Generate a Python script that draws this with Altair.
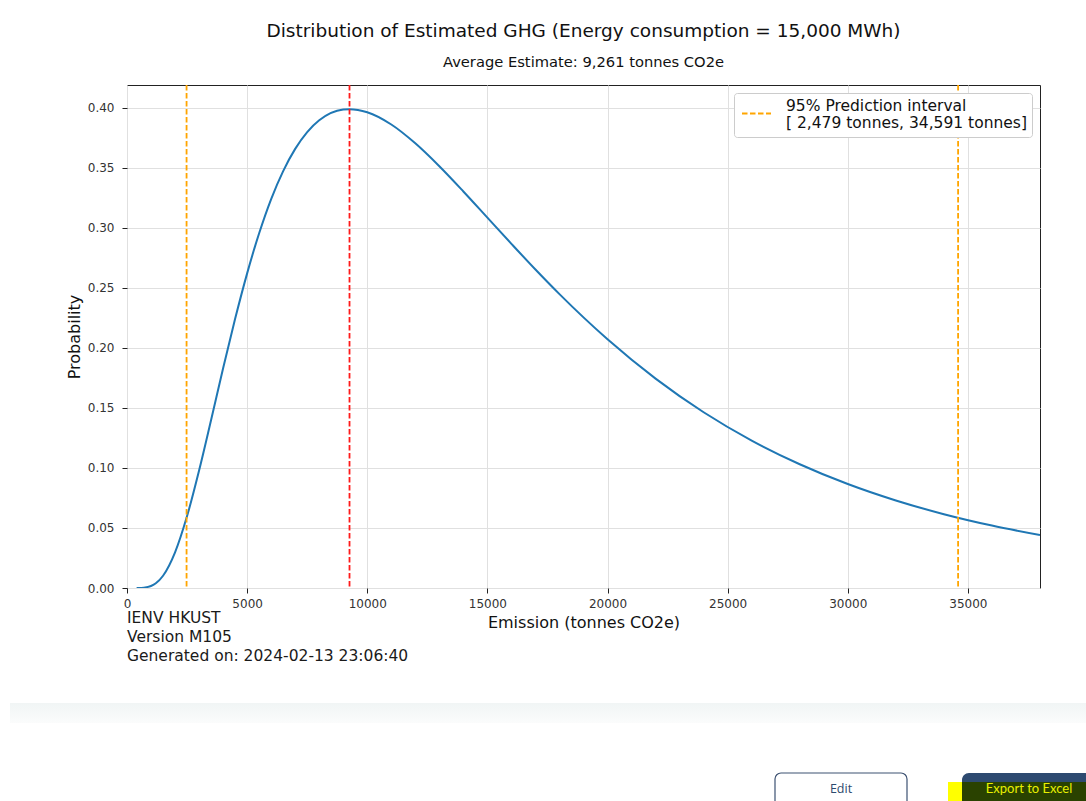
import altair as alt
import pandas as pd

# Emission grid (tonnes CO2e) and probability density
emission = [400, 500, 700, 1000, 1200, 1500, 2000, 2500, 3000, 3500, 4000, 4500,
            5000, 5500, 6000, 6500, 7000, 7500, 8000, 9000, 9261, 10000, 11000,
            12000, 13000, 14000, 15000, 16000, 17000, 18000, 20000, 22000, 24000,
            26000, 28000, 30000, 32000, 34000, 36000, 38000]
probability = [0.0000, 0.0000, 0.0003, 0.0017, 0.0039, 0.0102, 0.0297, 0.0599,
               0.0979, 0.1400, 0.1830, 0.2242, 0.2621, 0.2955, 0.3240, 0.3473,
               0.3658, 0.3798, 0.3896, 0.3986, 0.3989, 0.3963, 0.3861, 0.3704,
               0.3513, 0.3303, 0.3085, 0.2867, 0.2653, 0.2448, 0.2072, 0.1744,
               0.1464, 0.1228, 0.1031, 0.0866, 0.0729, 0.0615, 0.0520, 0.0441]

average_estimate = 9261
interval_bounds = [2479, 34591]

x_ticks = [0, 5000, 10000, 15000, 20000, 25000, 30000, 35000]
y_ticks = [0.00, 0.05, 0.10, 0.15, 0.20, 0.25, 0.30, 0.35, 0.40]

footer_lines = ["IENV HKUST", "Version M105", "Generated on: 2024-02-13 23:06:40"]

W, H = 913, 503
FONT = "DejaVu Sans"

curve_df = pd.DataFrame({"emission": emission, "probability": probability})
avg_df = pd.DataFrame({"emission": [average_estimate]})
pi_df = pd.DataFrame({"emission": interval_bounds, "band": ["pi", "pi"]})
one = pd.DataFrame({"k": [0]})

x_enc = alt.X("emission:Q",
              scale=alt.Scale(domain=[0, 38000], nice=False, zero=False),
              axis=alt.Axis(values=x_ticks, format="d", title="Emission (tonnes CO2e)",
                            labelFlush=False, labelPadding=5, titlePadding=5))
y_enc = alt.Y("probability:Q",
              scale=alt.Scale(domain=[0, 0.419], nice=False),
              axis=alt.Axis(values=y_ticks, format=".2f", title="Probability",
                            labelFlush=False, labelPadding=8, titlePadding=5))

curve = alt.Chart(curve_df).mark_line(
    color="#1f77b4", strokeWidth=2, interpolate="monotone", clip=True
).encode(x=x_enc, y=y_enc)

avg_rule = alt.Chart(avg_df).mark_rule(
    color="#ff1a1a", strokeWidth=1.8, strokeDash=[5.5, 2.5]
).encode(x="emission:Q")

pi_rule = alt.Chart(pi_df).mark_rule(
    strokeWidth=1.8, strokeDash=[5.5, 2.5]
).encode(
    x="emission:Q",
    color=alt.Color(
        "band:N",
        scale=alt.Scale(domain=["pi"], range=["#ffa500"]),
        legend=alt.Legend(
            title=None, orient="none", legendX=607, legendY=8,
            symbolType="stroke", symbolDash=[5.5, 2.5], symbolStrokeWidth=1.8,
            symbolSize=841, symbolOffset=2,
            labelExpr="['95% Prediction interval', '[ 2,479 tonnes, 34,591 tonnes]']",
            labelFont=FONT, labelFontSize=15.5, labelColor="#111", labelLimit=400,
            labelBaseline="bottom",
            labelOffset=14, padding=5, fillColor="white", strokeColor="#cccccc",
            cornerRadius=3,
        ),
    ),
)

footer = alt.layer(*[
    alt.Chart(one).mark_text(align="left", baseline="alphabetic", font=FONT,
                             fontSize=15.5, color="#1a1a1a", text=line)
    .encode(x=alt.value(0), y=alt.value(H + 35 + 19 * i))
    for i, line in enumerate(footer_lines)
])

# page furniture under the figure: divider band and two buttons
divider = alt.Chart(one).mark_rect(
    color=alt.Gradient(gradient="linear", x1=0, y1=0, x2=0, y2=1,
                       stops=[alt.GradientStop(color="#f1f5f5", offset=0),
                              alt.GradientStop(color="#fbfcfc", offset=1)])
).encode(x=alt.value(-117), x2=alt.value(959), y=alt.value(618), y2=alt.value(638))

edit_btn = alt.Chart(one).mark_rect(
    fill="white", stroke="#3d5272", strokeWidth=1.2, cornerRadius=6
).encode(x=alt.value(648), x2=alt.value(780), y=alt.value(688), y2=alt.value(730))
edit_txt = alt.Chart(one).mark_text(
    text="Edit", font="Open Sans", fontSize=12.5, color="#2c4a6e", baseline="middle"
).encode(x=alt.value(714), y=alt.value(704))

yellow = alt.Chart(one).mark_rect(fill="#ffff00").encode(
    x=alt.value(821), x2=alt.value(840), y=alt.value(697), y2=alt.value(720))
export_btn = alt.Chart(one).mark_rect(fill="#2e4a70", cornerRadius=7).encode(
    x=alt.value(835), x2=alt.value(975), y=alt.value(688), y2=alt.value(730))
olive = alt.Chart(one).mark_rect(fill="#2a4200").encode(
    x=alt.value(835), x2=alt.value(975), y=alt.value(697), y2=alt.value(720))
export_txt = alt.Chart(one).mark_text(
    text="Export to Excel", font="Lato", fontSize=13, color="#e8f000", baseline="middle"
).encode(x=alt.value(902), y=alt.value(704))

chart = alt.layer(
    curve, avg_rule, pi_rule, footer,
    divider, edit_btn, edit_txt, yellow, export_btn, olive, export_txt,
).properties(
    width=W, height=H,
    title=alt.TitleParams(
        text="Distribution of Estimated GHG (Energy consumption = 15,000 MWh)",
        subtitle="Average Estimate: 9,261 tonnes CO2e",
        font=FONT, fontSize=18.5, fontWeight="normal", color="#111",
        subtitleFont=FONT, subtitleFontSize=14.7, subtitleColor="#111",
        subtitlePadding=15, offset=14, anchor="middle",
    ),
    autosize=alt.AutoSizeParams(type="none"),
    padding={"left": 127, "top": 85, "right": 46, "bottom": 213},
    background="white",
).configure_view(
    stroke="#222", strokeWidth=1
).configure_axis(
    grid=True, gridColor="#e0e0e0", gridWidth=1, domain=False,
    tickColor="#222", tickSize=5, tickWidth=1,
    labelFont=FONT, labelFontSize=12, labelColor="#333",
    titleFont=FONT, titleFontSize=16, titleFontWeight="normal", titleColor="#111",
)

chart.save("out.html", embed_options={"renderer": "svg", "actions": False})
